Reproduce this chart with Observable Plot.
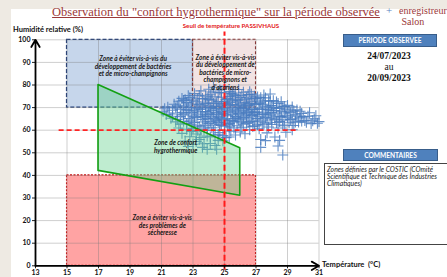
<!DOCTYPE html>
<html><head><meta charset="utf-8">
<script src="https://cdn.jsdelivr.net/npm/d3@7"></script>
<script src="https://cdn.jsdelivr.net/npm/@observablehq/plot@0.6"></script>
<style>
body{margin:0;background:#eeeae3;}
#wrap{position:relative;width:447px;height:277px;overflow:hidden;background:#eeeae3;}
#paper{position:absolute;left:11px;top:9px;right:0;bottom:0;background:#fff;}
#chart{position:absolute;left:0;top:0;}
.t{position:absolute;white-space:nowrap;}
.serif{font-family:"Liberation Serif","DejaVu Serif",serif;}
.sans{font-family:Lato,"Open Sans",sans-serif;}
.btn{position:absolute;background:#4f81bd;border:1px solid #385d8a;color:#fff;font:bold 6.6px Lato,sans-serif;text-align:center;box-sizing:border-box;}
</style></head>
<body>
<div id="wrap">
 <div id="paper"></div>
 <div id="chart"></div>
 <div class="t serif" style="left:216px;top:5px;transform:translateX(-50%);font-size:12.5px;color:#9b3838;text-decoration:underline;text-decoration-thickness:1px;">Observation du "confort hygrothermique" sur la période observée</div>
 <div class="t serif" style="left:386px;top:4px;font-size:11px;color:#5b82c0;">+</div>
 <div class="t serif" style="left:399px;top:5px;font-size:10px;line-height:11px;color:#9b3838;">enregistreur<br>&nbsp;Salon</div>
 <div class="t sans" style="left:13px;top:25px;font-size:7.5px;font-weight:bold;color:#111;">Humidité relative (%)</div>
 <div class="t sans" style="left:231px;top:22px;transform:translateX(-50%);font-size:6.2px;font-weight:bold;color:#e32020;">Seuil de température PASSIVHAUS</div>
 <div class="btn" style="left:343px;top:34px;width:94px;height:13px;line-height:11px;">PERIODE OBSERVEE</div>
 <div class="t serif" style="left:389px;top:51px;transform:translateX(-50%);font-size:9.5px;font-weight:bold;color:#111;text-align:center;line-height:11px;">24/07/2023<br><span style="font-weight:normal">au</span><br>20/09/2023</div>
 <div class="btn" style="left:343px;top:149px;width:95px;height:12px;line-height:10px;">COMMENTAIRES</div>
 <div class="t" style="left:324px;top:163px;width:130px;height:82px;border:1.5px solid #444;box-sizing:border-box;background:#fff;"></div>
 <div class="t sans" style="left:327px;top:166px;font-size:6.8px;font-style:italic;line-height:7px;color:#222;">Zones définies par le COSTIC (COmité<br>Scientifique et Technique des Industries<br>Climatiques)</div>
 <div class="t sans" style="left:322px;top:260px;font-size:7.5px;font-weight:bold;color:#111;">Température&nbsp; (°C)</div>
</div>
<script>
// axis ticks
const xTicks = [13, 15, 17, 19, 21, 23, 25, 27, 29, 31];
const yTicks = [0, 10, 20, 30, 40, 50, 60, 70, 80, 90, 100];

// zones (COSTIC)
const zoneNames = ["bacteries", "acariens", "secheresse"];
const zoneX1 = [15, 23, 15];
const zoneX2 = [23, 27, 27];
const zoneY1 = [70, 70, 0];
const zoneY2 = [100, 100, 40];

// comfort polygon
const comfortX = [17, 26];
const comfortTop = [80, 52];
const comfortBottom = [42, 31];

// thresholds
const passivhausTemp = 25;
const humThreshold = 60;

// zone labels
const labelTexts = [
  "Zone à éviter vis-à-vis du\ndéveloppement de bactéries\net de micro-champignons",
  "Zone à éviter vis-à-vis\ndu développement de\nbactéries de micro-\nchampignons et\nd'acariens",
  "Zone de confort\nhygrothermique",
  "Zone à éviter vis-à-vis\ndes problèmes de\nsécheresse"
];
const labelX = [19.2, 25.05, 21.9, 21.05];
const labelY = [88.3, 85.5, 52.8, 17.8];

// enregistreur Salon : température (°C) and humidité (%)
const temp = [
21.1,21.3,21.4,21.6,21.7,21.8,21.9,22.0,21.5,21.2,21.9,22.0,
22.1,22.1,22.2,22.2,22.3,22.3,22.4,22.4,22.5,22.5,22.6,22.6,22.7,22.7,22.8,22.8,22.9,22.9,23.0,23.0,22.6,22.8,22.3,22.9,22.5,
23.1,23.1,23.2,23.2,23.3,23.3,23.4,23.4,23.5,23.5,23.6,23.6,23.7,23.7,23.8,23.8,23.9,23.9,24.0,24.0,23.2,23.4,23.6,23.8,23.5,23.9,23.3,23.7,24.0,23.1,
24.1,24.1,24.2,24.2,24.3,24.3,24.4,24.4,24.5,24.5,24.6,24.6,24.7,24.7,24.8,24.8,24.9,24.9,25.0,25.0,24.2,24.4,24.6,24.8,24.3,24.5,24.7,24.9,24.1,24.6,24.8,25.0,
25.1,25.1,25.2,25.2,25.3,25.3,25.4,25.4,25.5,25.5,25.6,25.6,25.7,25.7,25.8,25.8,25.9,25.9,26.0,26.0,25.2,25.4,25.6,25.8,25.3,25.5,25.7,25.9,25.1,26.0,
26.1,26.1,26.2,26.2,26.3,26.3,26.4,26.4,26.5,26.5,26.6,26.6,26.7,26.7,26.8,26.8,26.9,26.9,27.0,27.0,26.2,26.4,26.6,26.8,26.3,
27.1,27.1,27.2,27.2,27.3,27.3,27.4,27.5,27.5,27.6,27.6,27.7,27.8,27.8,27.9,27.9,28.0,27.4,27.7,28.0,
28.1,28.1,28.2,28.3,28.3,28.4,28.4,28.5,28.6,28.7,28.7,28.8,28.9,28.9,28.6,
29.1,29.2,29.3,29.4,29.5,29.6,29.7,29.8,29.9,29.3,
30.1,30.3,30.5,30.7,30.9,30.4,
22.2,22.4,22.6,22.7,22.9,23.0,23.0,23.1,23.2,23.3,23.3,23.4,23.5,23.5,23.6,23.6,23.7,23.8,23.8,23.9,23.9,24.0,24.0,
24.1,24.1,24.2,24.2,24.3,24.3,24.4,24.4,24.5,24.5,24.6,24.6,24.7,24.7,24.8,24.8,24.9,24.9,25.0,25.0,
25.1,25.1,25.2,25.2,25.3,25.3,25.4,25.4,25.5,25.5,25.6,25.6,25.7,25.7,25.8,25.8,25.9,25.9,26.0,26.0,
26.1,26.1,26.2,26.2,26.3,26.3,26.4,26.4,26.5,26.5,26.6,26.6,26.7,26.7,26.8,26.8,26.9,26.9,27.0,27.0,
27.1,27.1,27.2,27.2,27.3,27.3,27.4,27.4,27.5,27.5,27.6,27.6,27.7,27.7,27.8,27.8,27.9,27.9,28.0,28.0,
28.1,28.2,28.2,28.3,28.4,28.4,28.5,28.5,28.6,28.7,28.7,28.8,28.8,28.9,29.0,29.0,
29.1,29.2,29.3,29.4,29.5,29.6,29.8,29.9,30.0,30.2,30.6,30.8,31.0,
22.0,21.7,22.4,22.8,23.2,23.7,24.1,24.4,24.9,25.3,22.7,23.9,24.6,27.3,28.5
];
const hum = [
68.4,66.9,70.2,65.3,68.8,71.5,63.7,67.2,67.6,69.5,69.9,64.8,
72.8,61.0,66.0,69.3,74.1,58.6,63.9,70.7,67.5,55.2,72.2,60.4,65.1,75.3,68.9,57.1,62.6,71.6,66.3,53.8,69.0,64.0,67.8,59.5,73.5,
76.2,63.4,70.0,58.3,67.1,73.8,61.5,55.9,69.2,77.4,64.8,52.4,72.0,60.1,66.7,75.0,57.4,69.9,63.0,78.1,65.6,71.3,68.1,62.2,56.8,74.2,59.9,66.0,70.8,68.6,
67.5,54.1,73.3,61.1,69.4,79.0,64.6,57.8,71.9,51.6,66.2,76.5,62.7,59.0,74.6,68.3,65.0,55.3,72.6,61.8,65.9,70.5,63.4,71.1,60.0,67.8,77.8,69.0,75.7,58.2,64.1,79.4,
66.9,56.7,74.0,62.5,69.8,77.1,64.3,59.6,71.4,67.2,75.8,61.0,68.5,57.9,72.9,65.4,70.1,78.0,63.7,59.2,68.0,72.3,65.1,62.0,63.0,76.4,73.7,67.3,71.8,74.5,
69.6,61.3,76.8,65.7,72.2,58.4,67.9,74.3,63.4,70.9,77.0,60.2,66.5,72.8,64.0,69.2,75.1,61.9,67.7,71.3,70.4,63.0,68.4,73.9,66.6,
65.2,74.7,69.5,60.6,72.4,55.9,67.1,75.6,63.3,70.2,55.4,66.3,73.0,61.4,68.8,76.0,64.5,71.5,58.8,70.9,
67.2,73.1,57.0,69.7,63.4,53.0,71.8,65.9,68.4,49.0,62.3,70.5,66.4,59.1,72.6,
68.1,64.7,70.3,62.1,66.8,69.0,63.6,65.5,67.4,60.2,
64.3,66.2,62.9,65.0,63.1,67.7,
62.7,66.8,63.0,70.0,67.9,73.0,60.8,65.9,72.6,69.5,62.0,75.4,66.3,60.4,70.7,74.0,63.6,68.2,71.7,65.2,61.0,73.6,67.0,
70.0,63.8,76.9,68.7,65.2,72.0,62.3,74.8,69.6,64.4,72.7,67.0,70.4,65.6,62.1,76.7,71.6,67.4,64.9,69.8,
73.6,63.2,66.4,71.0,74.9,61.4,68.6,76.3,64.2,73.0,69.3,63.8,75.3,66.0,70.9,68.0,64.5,73.3,67.2,71.6,
65.0,75.3,68.9,62.6,73.7,69.7,65.8,71.2,75.8,67.3,63.9,71.8,69.3,75.9,66.9,61.6,71.6,68.0,65.0,74.0,
68.0,62.4,71.8,66.2,74.4,64.0,69.2,62.4,72.9,67.0,65.6,74.3,69.3,63.1,67.6,70.6,65.3,72.8,62.5,67.8,
70.0,64.9,68.7,72.5,66.3,61.0,69.7,63.8,66.0,70.4,64.6,67.6,62.0,69.3,65.7,71.0,
63.3,67.7,65.0,68.6,63.6,66.2,68.4,64.0,66.0,63.5,64.2,66.4,63.8,
70.7,66.2,73.2,74.4,55.0,54.0,57.0,53.2,57.6,57.0,52.8,51.5,55.5,52.4,55.5
];

const zones = zoneNames.map((name, i) => ({name, x1: zoneX1[i], x2: zoneX2[i], y1: zoneY1[i], y2: zoneY2[i]}));
const comfort = comfortX.map((x, i) => ({x, top: comfortTop[i], bottom: comfortBottom[i]}));
const points = temp.map((t, i) => ({t, h: hum[i]}));
const labels = labelTexts.map((text, i) => ({text, x: labelX[i], y: labelY[i]}));
const zoneFill = {bacteries: "#c6d6eb", acariens: "#f2e3e3", secheresse: "#ffa3a3"};
const zoneStroke = {bacteries: "#1f3b78", acariens: "#8a2d2d", secheresse: "#d01010"};

const chart = Plot.plot({
  width: 447, height: 277,
  marginLeft: 35, marginRight: 128.5, marginTop: 39.3, marginBottom: 11.7,
  x: {domain: [13, 31]},
  y: {domain: [0, 100]},
  style: {background: "transparent", fontFamily: "Lato, 'Open Sans', sans-serif", color: "#111"},
  marks: [
    Plot.rect(zones.filter(d => d.name === "bacteries"), {x1: "x1", x2: "x2", y1: "y1", y2: "y2", fill: d => zoneFill[d.name], stroke: d => zoneStroke[d.name], strokeDasharray: "4,2", strokeWidth: 1.2}),
    Plot.rect(zones.filter(d => d.name === "acariens"), {x1: "x1", x2: "x2", y1: "y1", y2: "y2", fill: d => zoneFill[d.name], stroke: d => zoneStroke[d.name], strokeDasharray: "3,2", strokeWidth: 1.1}),
    Plot.rect(zones.filter(d => d.name === "secheresse"), {x1: "x1", x2: "x2", y1: "y1", y2: "y2", fill: d => zoneFill[d.name], stroke: d => zoneStroke[d.name], strokeDasharray: "2,1.5", strokeWidth: 1.1}),
    Plot.ruleX(xTicks, {y1: 0, y2: 100, stroke: "#777", strokeOpacity: 0.45, strokeWidth: 0.8}),
    Plot.ruleY(yTicks, {x1: 13, x2: 31, stroke: "#777", strokeOpacity: 0.45, strokeWidth: 0.8}),
    Plot.dot(points, {x: "t", y: "h", symbol: "plus", r: 3.6, stroke: "#4a7cc0", strokeWidth: 1.1, strokeOpacity: 0.85}),
    Plot.areaY(comfort, {x: "x", y1: "bottom", y2: "top", fill: "#5fd08a", fillOpacity: 0.4, stroke: "#13a013", strokeWidth: 1.6}),
    Plot.ruleY([humThreshold], {x1: 14.5, x2: 29.6, stroke: "#ff2424", strokeWidth: 1.8, strokeDasharray: "5,3"}),
    Plot.ruleX([passivhausTemp], {y1: -2, y2: 103.5, stroke: "#ff1a1a", strokeWidth: 2, strokeDasharray: "6,3"}),
    Plot.text(labels, {x: "x", y: "y", text: "text", fontSize: 6.5, fontWeight: "bold", fontStyle: "italic", lineHeight: 1.15, fill: "#1a1a1a"}),
    Plot.axisX({ticks: xTicks, tickSize: 3, tickPadding: 1, fontSize: 7, fontWeight: "bold", label: null, stroke: "#222"}),
    Plot.axisY({ticks: yTicks, tickSize: 3, tickPadding: 2, fontSize: 7, fontWeight: "bold", label: null, stroke: "#222"}),
    Plot.arrow([{x1: 13, y1: 0, x2: 31, y2: 0}], {x1: "x1", y1: "y1", x2: "x2", y2: "y2", stroke: "#000", strokeWidth: 1.8, headLength: 7}),
    Plot.arrow([{x1: 13, y1: 0, x2: 13, y2: 100}], {x1: "x1", y1: "y1", x2: "x2", y2: "y2", stroke: "#000", strokeWidth: 1.8, headLength: 7})
  ]
});
document.getElementById("chart").appendChild(chart);
</script>
</body></html>
